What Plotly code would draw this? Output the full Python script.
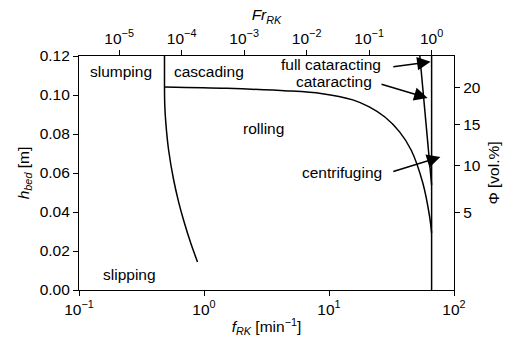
import numpy as np
import plotly.graph_objects as go

# ---- data ----
# slumping / cascading boundary (vertical part + left curve)
slump_f = [0.483, 0.483]
slump_h = [0.120, 0.1036]
left_f = [0.483, 0.4855, 0.495, 0.521, 0.572, 0.627, 0.686, 0.783, 0.887]
left_h = [0.1036, 0.0949, 0.0857, 0.0718, 0.0564, 0.0451, 0.0359, 0.0241, 0.0144]

# rolling / cascading boundary
roll_f = [0.483, 1.52, 4.69, 8.61, 15.5, 21.0, 28.0, 36.7, 45.4, 56.3, 63.9, 66.2]
roll_h = [0.1041, 0.1034, 0.1021, 0.1008, 0.0975, 0.0939, 0.0887, 0.0811, 0.0718,
          0.0549, 0.0374, 0.0292]

# cataracting boundary (tilted line)
cat_f = [53.3, 57.3, 63.9, 66.2]
cat_h = [0.120, 0.0985, 0.0677, 0.0539]

# critical speed (Fr = 1)
crit_f = [66.2, 66.2]
crit_h = [0.0, 0.12]

f_crit = 66.2      # rotation speed where Fr_RK = 1
R = 0.204          # drum radius [m] (for Φ axis)

x_tickvals = [0.1, 1, 10, 100]
x_ticktext = ["10<sup>−1</sup>", "10<sup>0</sup>", "10<sup>1</sup>", "10<sup>2</sup>"]
fr_tickvals = [1e-5, 1e-4, 1e-3, 1e-2, 1e-1, 1e0]
fr_ticktext = ["10<sup>−5</sup>", "10<sup>−4</sup>", "10<sup>−3</sup>",
               "10<sup>−2</sup>", "10<sup>−1</sup>", "10<sup>0</sup>"]
y_tickvals = [0.0, 0.02, 0.04, 0.06, 0.08, 0.10, 0.12]
phi_ticks = [5, 10, 15, 20]

region_labels = ["slumping", "cascading", "rolling", "slipping",
                 "full cataracting", "cataracting", "centrifuging"]
label_f = [0.216, 1.099, 2.99, 0.253, 10.31, 11.04, 12.76]
label_h = [0.1123, 0.1123, 0.0826, 0.0077, 0.1154, 0.1067, 0.0605]

arrow_tail_f = [31.8, 25.6, 31.8]
arrow_tail_h = [0.1144, 0.1057, 0.0605]
arrow_head_f = [65.0, 61.5, 77.8]
arrow_head_h = [0.1170, 0.0985, 0.0682]

# ---- helpers ----
def h_from_phi(phi):
    # fill fraction of circular cross-section -> bed height
    from math import acos, sin, pi
    lo, hi = 0.0, 2 * R
    for _ in range(60):
        mid = (lo + hi) / 2
        th = 2 * acos(1 - mid / R)
        frac = (th - sin(th)) / (2 * pi)
        if frac < phi / 100:
            lo = mid
        else:
            hi = mid
    return (lo + hi) / 2

FONT = "Liberation Sans, Arial, sans-serif"
FS = 15.5

fig = go.Figure()
for fx, hy, shp in [(slump_f, slump_h, "linear"), (left_f, left_h, "spline"),
                    (roll_f, roll_h, "spline"),
                    (cat_f, cat_h, "linear"), (crit_f, crit_h, "linear")]:
    fig.add_trace(go.Scatter(x=fx, y=hy, mode="lines",
                             line=dict(color="black", width=1.5, shape=shp, smoothing=0.8),
                             showlegend=False, hoverinfo="skip"))

# dummy trace for secondary axes
fig.add_trace(go.Scatter(x=[1e-3], y=[0.05], xaxis="x2", yaxis="y2", mode="markers",
                         marker=dict(opacity=0), showlegend=False, hoverinfo="skip"))

xlo, xhi = -1.0, 2.0
fr_lo = 2 * (xlo - np.log10(f_crit))
fr_hi = 2 * (xhi - np.log10(f_crit))

axis_common = dict(showgrid=False, zeroline=False, showline=True, linecolor="black",
                   linewidth=1.2, ticks="outside", ticklen=5, tickwidth=1.2,
                   tickcolor="black", tickfont=dict(family=FONT, size=FS, color="black"))

fig.update_layout(
    width=512, height=345,
    margin=dict(l=79, r=47, t=56, b=55),
    plot_bgcolor="white", paper_bgcolor="white",
    font=dict(family=FONT, size=FS, color="black"),
    xaxis=dict(type="log", range=[xlo, xhi], tickvals=x_tickvals, ticktext=x_ticktext,
               title=dict(text="<i>f</i><sub><i>RK</i></sub> [min<sup>−1</sup>]",
                          font=dict(family=FONT, size=FS), standoff=4),
               **axis_common),
    yaxis=dict(range=[0, 0.12], tickvals=y_tickvals, tickformat=".2f",
               title=dict(text="<i>h</i><sub><i>bed</i></sub> [m]",
                          font=dict(family=FONT, size=FS), standoff=6),
               **axis_common),
    xaxis2=dict(type="log", range=[fr_lo, fr_hi], overlaying="x", side="top", anchor="y2",
                tickvals=fr_tickvals, ticktext=fr_ticktext,
                title=dict(text="<i>Fr</i><sub><i>RK</i></sub>",
                           font=dict(family=FONT, size=FS), standoff=2),
                **axis_common),
    yaxis2=dict(range=[0, 0.12], overlaying="y", side="right", anchor="x2",
                tickvals=[h_from_phi(p) for p in phi_ticks],
                ticktext=[str(p) for p in phi_ticks],
                title=dict(text="Φ [vol.%]", font=dict(family=FONT, size=FS), standoff=8),
                **axis_common),
)

for t, fx, hy in zip(region_labels, label_f, label_h):
    fig.add_annotation(x=np.log10(fx), y=hy, xref="x", yref="y", text=t,
                       showarrow=False, xanchor="center", yanchor="middle",
                       font=dict(family=FONT, size=FS, color="black"))

for tf, th, hf, hh in zip(arrow_tail_f, arrow_tail_h, arrow_head_f, arrow_head_h):
    fig.add_annotation(x=np.log10(hf), y=hh, ax=np.log10(tf), ay=th,
                       xref="x", yref="y", axref="x", ayref="y", text="",
                       showarrow=True, arrowhead=2, arrowsize=1.8, arrowwidth=1.5,
                       arrowcolor="black", standoff=0, startstandoff=0)

fig.write_html("out.html")
